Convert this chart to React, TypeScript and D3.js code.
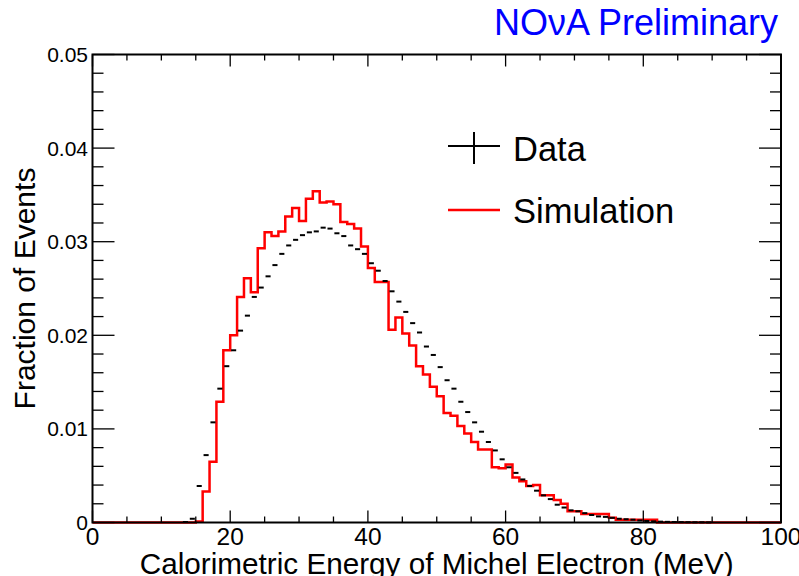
import React from "react";
import * as d3 from "d3";

// Bin lower edges 0..99 MeV (1 MeV bins)
const binEdges: number[] = d3.range(0, 101, 1);

// Data (black points with horizontal bin-width bars)
const dataValues: number[] = [
  0, 0, 0, 0, 0, 0, 0, 0, 0, 0,
  0, 0, 0, 0.00005, 0.0004, 0.0039, 0.0072, 0.0107, 0.0143, 0.0167,
  0.0184, 0.0205, 0.0221, 0.0241, 0.0251, 0.0263, 0.0275, 0.0287, 0.0296, 0.0302,
  0.0307, 0.031, 0.0311, 0.0315, 0.0314, 0.0309, 0.0306, 0.0296, 0.0292, 0.0287,
  0.0277, 0.0269, 0.0258, 0.0247, 0.0236, 0.0225, 0.0213, 0.0203, 0.0188, 0.0179,
  0.0166, 0.0152, 0.0143, 0.0129, 0.0118, 0.0107, 0.0097, 0.0086, 0.0077, 0.00675,
  0.0059, 0.0053, 0.0046, 0.0039, 0.0034, 0.0029, 0.0025, 0.0019, 0.0016, 0.0013,
  0.0012, 0.001, 0.0008, 0.00065, 0.0006, 0.0005, 0.0004, 0.00035, 0.0003, 0.00022,
  0.00016, 0.00012, 0.00009, 0.00007, 0.00005, 0.00004, 0.00003, 0.00002, 0.00002, 0.00001,
  0, 0, 0, 0, 0, 0, 0, 0, 0, 0,
];

// Simulation (red step histogram)
const simValues: number[] = [
  0, 0, 0, 0, 0, 0, 0, 0, 0, 0,
  0, 0, 0, 0, 0, 0.0001, 0.0033, 0.0065, 0.0129, 0.0184,
  0.02, 0.0241, 0.0261, 0.0246, 0.0293, 0.031, 0.0306, 0.0311, 0.0327, 0.0336,
  0.0322, 0.0346, 0.0354, 0.0342, 0.0343, 0.034, 0.0321, 0.0319, 0.0314, 0.0295,
  0.0272, 0.0257, 0.0257, 0.0206, 0.0219, 0.0202, 0.0189, 0.0167, 0.0158, 0.0145,
  0.0135, 0.0117, 0.0114, 0.0103, 0.0095, 0.0086, 0.0078, 0.0078, 0.0059, 0.0058,
  0.0062, 0.0048, 0.0044, 0.0039, 0.004, 0.0029, 0.0029, 0.0024, 0.002, 0.0012,
  0.0012, 0.0009, 0.0009, 0.0009, 0.0009, 0.0005, 0.0003, 0.0003, 0.0003, 0.0003,
  0.0003, 0.0003, 0, 0, 0, 0, 0, 0, 0, 0,
  0, 0, 0, 0, 0, 0, 0, 0, 0, 0,
];

const xTickLabels: number[] = [0, 20, 40, 60, 80, 100];
const yTickLabels: number[] = [0, 0.01, 0.02, 0.03, 0.04, 0.05];
const legendLabels: string[] = ["Data", "Simulation"];
const titleText = "NOνA Preliminary";
const xTitle = "Calorimetric Energy of Michel Electron (MeV)";
const yTitle = "Fraction of Events";

const W = 799;
const H = 576;
const L = 92.5;
const R = 781;
const T = 54.5;
const B = 522.5;
const FONT = "'Liberation Sans', Arial, Helvetica, sans-serif";

export default function App() {
  const x = d3.scaleLinear().domain([0, 100]).range([L, R]);
  const y = d3.scaleLinear().domain([0, 0.05]).range([B, T]);

  const stepPts: [number, number][] = [];
  simValues.forEach((v, i) => {
    stepPts.push([binEdges[i], v]);
    stepPts.push([binEdges[i + 1], v]);
  });
  const line = d3
    .line<[number, number]>()
    .x((d) => x(d[0]))
    .y((d) => y(d[1]));

  const xMinor = d3.range(0, 101, 5);
  const yMinor = d3.range(0, 0.0501, 0.002);

  return (
    <svg width={W} height={H} style={{ position: "absolute", left: 0, top: 0, background: "#fff" }}>
      <rect x={0} y={0} width={W} height={H} fill="#fff" />
      {/* simulation */}
      <path d={line(stepPts) || ""} fill="none" stroke="#ff0000" strokeWidth={2.5} />
      {/* data */}
      {dataValues.map((v, i) =>
        v > 0 ? (
          <line
            key={"d" + i}
            x1={x(binEdges[i]) + 0.9}
            x2={x(binEdges[i + 1]) - 0.9}
            y1={y(v)}
            y2={y(v)}
            stroke="#000"
            strokeWidth={2}
          />
        ) : null
      )}
      {/* ticks */}
      {xMinor.map((t) => {
        const major = t % 20 === 0;
        const len = major ? 12 : 6;
        return (
          <g key={"xt" + t}>
            <line x1={x(t)} x2={x(t)} y1={B} y2={B - len} stroke="#000" strokeWidth={1.3} />
            <line x1={x(t)} x2={x(t)} y1={T} y2={T + len} stroke="#000" strokeWidth={1.3} />
          </g>
        );
      })}
      {yMinor.map((t, i) => {
        const major = i % 5 === 0;
        const len = major ? 22 : 11;
        return (
          <g key={"yt" + i}>
            <line x1={L} x2={L + len} y1={y(t)} y2={y(t)} stroke="#000" strokeWidth={1.3} />
            <line x1={R} x2={R - len} y1={y(t)} y2={y(t)} stroke="#000" strokeWidth={1.3} />
          </g>
        );
      })}
      {/* frame */}
      <rect x={L} y={T} width={R - L} height={B - T} fill="none" stroke="#000" strokeWidth={2} />
      {/* tick labels */}
      {xTickLabels.map((t) => (
        <text key={"xl" + t} x={x(t)} y={545} textAnchor="middle" fontFamily={FONT} fontSize={24.5} fill="#000">
          {t}
        </text>
      ))}
      {yTickLabels.map((t) => (
        <text
          key={"yl" + t}
          x={88}
          y={y(t) + 7.5}
          textAnchor="end"
          fontFamily={FONT}
          fontSize={21}
          fill="#000"
        >
          {t === 0 ? "0" : t.toFixed(2)}
        </text>
      ))}
      {/* axis titles */}
      <text x={(L + R) / 2} y={574} textAnchor="middle" fontFamily={FONT} fontSize={29.7} fill="#000">
        {xTitle}
      </text>
      <text
        transform={`translate(35, ${(T + B) / 2}) rotate(-90)`}
        textAnchor="middle"
        fontFamily={FONT}
        fontSize={30}
        fill="#000"
      >
        {yTitle}
      </text>
      {/* NOvA title */}
      <text x={778} y={35} textAnchor="end" fontFamily={FONT} fontSize={36} fill="#0000ff">
        {titleText}
      </text>
      {/* legend */}
      <line x1={448} x2={500} y1={146} y2={146} stroke="#000" strokeWidth={2} />
      <line x1={474} x2={474} y1={132} y2={164} stroke="#000" strokeWidth={2} />
      <text x={513} y={161} fontFamily={FONT} fontSize={34.5} fill="#000">
        {legendLabels[0]}
      </text>
      <line x1={448} x2={500} y1={210} y2={210} stroke="#ff0000" strokeWidth={2.5} />
      <text x={513} y={223} fontFamily={FONT} fontSize={34.5} fill="#000">
        {legendLabels[1]}
      </text>
    </svg>
  );
}
